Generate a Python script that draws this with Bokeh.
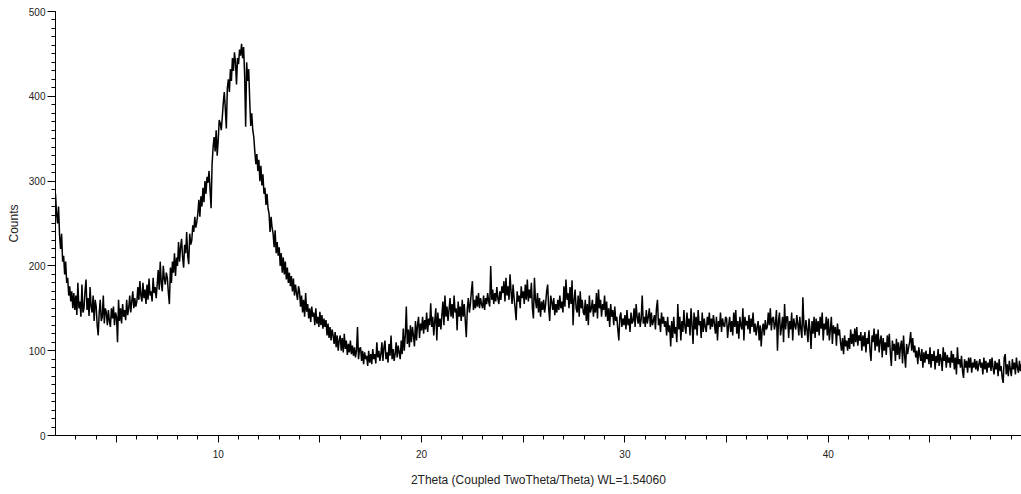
import numpy as np
from bokeh.plotting import figure
from bokeh.models import FixedTicker, Range1d
from bokeh.embed import file_html
from bokeh.resources import INLINE

# 2Theta scan: start angle and step (degrees)
start_2theta = 2.0
step_2theta = 0.05

# Counts, one row per degree (d.00, d.05, ..., d.95)
counts_rows = [
    [285, 262, 250, 270, 236, 220, 238, 205, 212, 190, 205, 180, 186, 165, 176, 158, 170, 150, 168, 148],   # 2
    [165, 142, 180, 150, 158, 140, 178, 145, 150, 170, 184, 148, 162, 141, 175, 152, 145, 165, 135, 160],   # 3
    [152, 130, 118, 145, 160, 135, 140, 165, 132, 150, 145, 130, 148, 135, 128, 150, 138, 152, 130, 145],   # 4
    [140, 110, 160, 135, 150, 132, 155, 140, 148, 136, 160, 142, 150, 165, 145, 158, 170, 150, 162, 152],   # 5
    [158, 175, 160, 182, 165, 158, 180, 162, 172, 155, 178, 160, 185, 165, 170, 158, 186, 168, 175, 162],   # 6
    [178, 195, 172, 205, 180, 170, 200, 185, 178, 192, 186, 168, 155, 198, 180, 205, 192, 215, 188, 210],   # 7
    [200, 228, 205, 222, 232, 210, 198, 225, 215, 240, 212, 202, 238, 225, 230, 248, 240, 258, 245, 252],   # 8
    [262, 278, 258, 282, 270, 292, 275, 300, 285, 305, 298, 312, 290, 268, 320, 340, 352, 335, 360, 330],   # 9
    [348, 372, 368, 360, 375, 392, 405, 385, 362, 410, 420, 405, 432, 418, 445, 430, 452, 440, 414, 445],   # 10
    [438, 455, 448, 462, 445, 458, 425, 364, 440, 418, 432, 395, 365, 380, 360, 352, 335, 320, 332, 312],   # 11
    [325, 300, 318, 295, 308, 285, 292, 272, 285, 268, 262, 240, 258, 245, 238, 222, 242, 215, 228, 212],   # 12
    [222, 200, 215, 192, 210, 190, 205, 184, 198, 180, 192, 176, 188, 170, 185, 165, 178, 168, 160, 176],   # 13
    [170, 152, 165, 145, 160, 140, 168, 146, 155, 138, 150, 134, 152, 140, 145, 130, 150, 132, 140, 128],   # 14
    [146, 130, 142, 126, 138, 128, 136, 118, 132, 115, 128, 112, 125, 118, 108, 122, 104, 118, 100, 112],   # 15
    [118, 100, 115, 98, 120, 102, 112, 95, 108, 98, 112, 96, 106, 94, 104, 92, 100, 128, 90, 102],          # 16
    [104, 88, 100, 84, 98, 90, 94, 82, 100, 86, 96, 84, 102, 90, 96, 85, 110, 92, 100, 88],                 # 17
    [96, 110, 88, 104, 112, 90, 98, 86, 108, 94, 118, 90, 102, 88, 96, 110, 92, 106, 98, 90],               # 18
    [112, 96, 126, 100, 118, 152, 108, 125, 104, 130, 110, 128, 118, 105, 135, 112, 130, 140, 115, 132],    # 19
    [124, 140, 120, 136, 125, 145, 122, 138, 130, 156, 128, 140, 118, 135, 150, 112, 145, 128, 138, 125],   # 20
    [142, 158, 130, 165, 140, 152, 135, 148, 162, 140, 155, 138, 165, 145, 150, 124, 158, 140, 152, 135],   # 21
    [160, 140, 155, 135, 116, 150, 162, 145, 155, 170, 182, 148, 160, 150, 165, 152, 168, 150, 162, 155],   # 22
    [150, 165, 148, 162, 155, 168, 158, 152, 200, 160, 172, 155, 168, 158, 175, 162, 155, 170, 160, 176],   # 23
    [168, 182, 158, 186, 165, 176, 160, 190, 170, 155, 178, 162, 150, 136, 170, 158, 165, 150, 176, 162],   # 24
    [170, 155, 178, 160, 184, 158, 172, 162, 180, 150, 138, 186, 160, 150, 168, 145, 162, 140, 158, 148],   # 25
    [160, 145, 155, 170, 178, 150, 135, 165, 158, 148, 162, 142, 155, 145, 160, 148, 165, 150, 158, 145],   # 26
    [176, 152, 184, 160, 168, 150, 175, 155, 183, 130, 160, 172, 150, 145, 165, 140, 170, 150, 160, 145],   # 27
    [142, 160, 135, 155, 130, 165, 145, 150, 160, 140, 155, 145, 168, 138, 172, 150, 160, 140, 155, 148],   # 28
    [165, 140, 158, 135, 150, 128, 155, 140, 148, 130, 152, 135, 140, 125, 112, 140, 145, 128, 138, 130],   # 29
    [142, 125, 148, 130, 138, 122, 145, 132, 135, 150, 128, 155, 140, 132, 145, 128, 138, 165, 132, 140],   # 30
    [128, 148, 132, 140, 150, 128, 145, 130, 135, 142, 125, 150, 160, 130, 138, 122, 145, 132, 140, 128],   # 31
    [135, 118, 140, 122, 130, 105, 135, 115, 140, 120, 128, 110, 155, 125, 140, 112, 135, 122, 148, 128],   # 32
    [120, 145, 128, 138, 118, 150, 130, 108, 145, 125, 140, 118, 148, 130, 135, 115, 145, 122, 138, 128],   # 33
    [122, 140, 130, 145, 125, 138, 128, 142, 132, 120, 140, 112, 135, 128, 145, 122, 138, 130, 128, 140],   # 34
    [138, 115, 130, 140, 122, 135, 118, 145, 128, 148, 120, 135, 114, 140, 130, 125, 150, 112, 140, 130],   # 35
    [135, 125, 142, 120, 138, 128, 145, 122, 132, 118, 128, 135, 112, 130, 105, 125, 132, 118, 136, 125],   # 36
    [128, 145, 130, 150, 124, 138, 140, 125, 132, 148, 100, 135, 145, 118, 128, 140, 110, 155, 125, 140],   # 37
    [140, 115, 135, 125, 145, 112, 138, 130, 125, 142, 132, 118, 140, 125, 115, 163, 130, 118, 136, 125],   # 38
    [110, 138, 125, 102, 135, 120, 140, 115, 138, 122, 135, 118, 140, 126, 145, 112, 132, 125, 140, 118],   # 39
    [138, 112, 125, 140, 108, 130, 120, 128, 106, 132, 118, 125, 110, 100, 115, 96, 118, 105, 112, 100],    # 40
    [115, 102, 125, 108, 120, 105, 126, 110, 128, 106, 118, 112, 122, 100, 118, 105, 122, 98, 115, 108],    # 41
    [124, 100, 88, 118, 110, 126, 100, 120, 105, 125, 98, 112, 118, 92, 115, 100, 110, 95, 118, 104],       # 42
    [120, 98, 82, 112, 100, 108, 88, 114, 95, 110, 90, 105, 112, 85, 118, 95, 80, 108, 96, 104],           # 43
    [110, 122, 100, 115, 98, 106, 92, 100, 84, 104, 95, 88, 102, 80, 98, 86, 100, 90, 96, 84],              # 44
    [104, 80, 96, 88, 100, 78, 94, 86, 102, 82, 96, 90, 76, 104, 88, 98, 80, 95, 86, 92],                   # 45
    [80, 100, 86, 96, 78, 92, 72, 104, 84, 90, 80, 94, 76, 68, 90, 80, 88, 74, 92, 80],                     # 46
    [92, 74, 86, 80, 90, 78, 88, 76, 84, 90, 80, 86, 72, 92, 78, 88, 74, 86, 80, 90],                       # 47
    [76, 92, 80, 72, 88, 78, 86, 70, 90, 76, 82, 68, 62, 92, 96, 72, 84, 70, 88, 78],                       # 48
    [70, 90, 78, 86, 72, 92, 80, 74, 88, 76, 84],                                                           # 49
]

x_major_ticks = [5, 10, 15, 20, 25, 30, 35, 40, 45]
x_tick_labels = {5: "", 10: "10", 15: "", 20: "20", 25: "", 30: "30", 35: "", 40: "40", 45: ""}
y_major_ticks = [0, 100, 200, 300, 400, 500]

counts = [c for row in counts_rows for c in row]
two_theta = start_2theta + step_2theta * np.arange(len(counts))

p = figure(width=1021, height=494, output_backend="svg", toolbar_location=None,
           x_range=Range1d(2.0, 49.5), y_range=Range1d(0, 500),
           min_border_left=55, min_border_right=0, min_border_top=11, min_border_bottom=59)
p.outline_line_color = None
p.xgrid.visible = False
p.ygrid.visible = False
p.background_fill_color = "white"
p.border_fill_color = "white"

p.line(two_theta, counts, line_color="black", line_width=1.5)

font = "Liberation Sans"
xa = p.xaxis[0]
xa.ticker = FixedTicker(ticks=x_major_ticks, minor_ticks=list(range(3, 50)))
xa.major_label_overrides = x_tick_labels
xa.axis_label = "2Theta (Coupled TwoTheta/Theta) WL=1.54060"
ya = p.yaxis[0]
ya.ticker = FixedTicker(ticks=y_major_ticks, minor_ticks=list(range(0, 501, 10)))
ya.axis_label = "Counts"

for ax in (xa, ya):
    ax.axis_line_color = "black"
    ax.axis_line_width = 1
    ax.major_tick_line_color = "black"
    ax.minor_tick_line_color = "black"
    ax.major_tick_in = 0
    ax.minor_tick_in = 0
    ax.major_label_text_font = font
    ax.major_label_text_font_size = "10px"
    ax.major_label_text_color = "#222222"
    ax.axis_label_text_font = font
    ax.axis_label_text_font_size = "12px"
    ax.axis_label_text_font_style = "normal"
    ax.axis_label_text_color = "#222222"

xa.major_tick_out = 7
xa.minor_tick_out = 4
xa.major_label_standoff = 7
xa.axis_label_standoff = 12
ya.major_tick_out = 8
ya.minor_tick_out = 4
ya.major_label_standoff = 2
ya.axis_label_standoff = 5

open("out.html", "w").write(file_html(p, INLINE))
